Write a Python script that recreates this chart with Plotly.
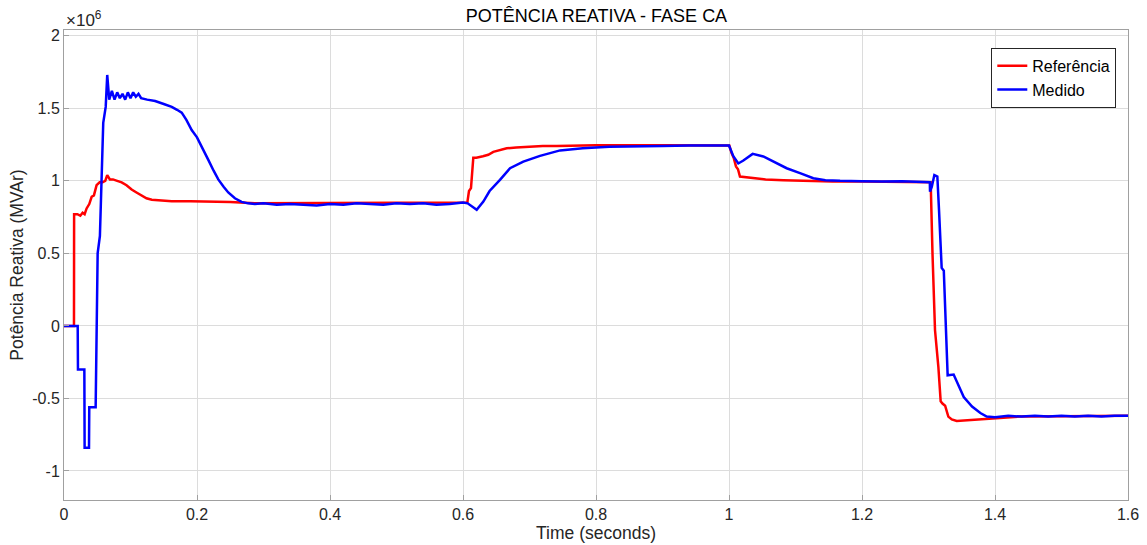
import plotly.graph_objects as go

# Time (s) and values (x10^6 VAr)
t_ref = [0.0, 0.015, 0.0152, 0.020, 0.0245, 0.028, 0.031, 0.034, 0.038, 0.0416, 0.045, 0.049, 0.0536, 0.058,
         0.062, 0.065, 0.069, 0.0737, 0.080, 0.0867, 0.094, 0.1017, 0.109, 0.1168, 0.124, 0.132, 0.145,
         0.162, 0.19, 0.212, 0.25, 0.287, 0.35, 0.45, 0.55, 0.6, 0.6065, 0.609, 0.612, 0.6155, 0.62,
         0.630, 0.638, 0.6456, 0.655, 0.6657, 0.68, 0.6957, 0.72, 0.741, 0.8, 0.9, 1.0, 1.0005, 1.004,
         1.007, 1.0105, 1.0135, 1.0165, 1.025, 1.0366, 1.055, 1.0817, 1.12, 1.156, 1.2, 1.25, 1.3, 1.3033,
         1.306, 1.3098, 1.3148, 1.3183, 1.321, 1.325, 1.3298, 1.335, 1.3424, 1.36, 1.3825, 1.41, 1.4376,
         1.5, 1.6]
v_ref = [0.0, 0.0, 0.77, 0.77, 0.76, 0.78, 0.77, 0.81, 0.84, 0.89, 0.90, 0.97, 0.99, 0.99,
         1.00, 1.04, 1.01, 1.01, 1.00, 0.99, 0.97, 0.94, 0.92, 0.90, 0.88, 0.87, 0.865,
         0.86, 0.86, 0.86, 0.855, 0.845, 0.845, 0.845, 0.845, 0.845, 0.85, 0.93, 0.95, 1.16, 1.16,
         1.17, 1.18, 1.20, 1.21, 1.225, 1.23, 1.235, 1.24, 1.24, 1.245, 1.245, 1.245, 1.243, 1.19,
         1.16, 1.10, 1.08, 1.03, 1.025, 1.018, 1.01, 1.005, 1.0, 0.995, 0.995, 0.995, 0.995, 0.99,
         0.50, -0.03, -0.28, -0.52, -0.535, -0.55, -0.625, -0.645, -0.655, -0.65, -0.64, -0.632, -0.625,
         -0.622, -0.62]

t_med = [0.0, 0.0206, 0.021, 0.0306, 0.031, 0.0376, 0.038, 0.0476, 0.0506, 0.054, 0.059, 0.0627, 0.065,
         0.068, 0.072, 0.076, 0.080, 0.084, 0.088, 0.092, 0.096, 0.100, 0.104, 0.108, 0.112, 0.116,
         0.125, 0.137, 0.150, 0.162, 0.170, 0.177, 0.184, 0.192, 0.200, 0.207, 0.217, 0.225, 0.232,
         0.240, 0.247, 0.257, 0.267, 0.277, 0.287, 0.30, 0.32, 0.34, 0.36, 0.38, 0.40, 0.42, 0.44, 0.46,
         0.48, 0.50, 0.52, 0.54, 0.56, 0.58, 0.60, 0.607, 0.6206, 0.6306, 0.640, 0.6556, 0.6707, 0.6907,
         0.7158, 0.746, 0.78, 0.82, 0.86, 0.90, 0.94, 0.98, 1.0, 1.0065, 1.014, 1.0216, 1.0356, 1.0516,
         1.0667, 1.0867, 1.1068, 1.1268, 1.145, 1.167, 1.20, 1.23, 1.26, 1.29, 1.302, 1.3023, 1.305,
         1.3088, 1.3133, 1.3158, 1.3198, 1.323, 1.3263, 1.3288, 1.3378, 1.3454, 1.353, 1.3655, 1.378,
         1.3875, 1.40, 1.42, 1.44, 1.46, 1.48, 1.50, 1.52, 1.54, 1.56, 1.58, 1.6]
v_med = [0.0, 0.0, -0.30, -0.30, -0.84, -0.84, -0.56, -0.56, 0.50, 0.62, 1.40, 1.51, 1.73,
         1.56, 1.62, 1.56, 1.61, 1.57, 1.60, 1.56, 1.61, 1.57, 1.61, 1.58, 1.60, 1.57,
         1.56, 1.55, 1.53, 1.51, 1.49, 1.47, 1.42, 1.35, 1.30, 1.24, 1.145, 1.07, 1.01,
         0.96, 0.92, 0.88, 0.855, 0.845, 0.84, 0.845, 0.835, 0.84, 0.835, 0.83, 0.84, 0.835, 0.845, 0.84,
         0.835, 0.845, 0.84, 0.845, 0.835, 0.84, 0.85, 0.845, 0.80, 0.857, 0.93, 1.007, 1.087, 1.133,
         1.172, 1.21, 1.225, 1.235, 1.24, 1.24, 1.243, 1.245, 1.243, 1.17, 1.12, 1.14, 1.186, 1.168,
         1.133, 1.087, 1.053, 1.018, 1.005, 1.0, 0.998, 0.995, 0.998, 0.995, 0.99, 0.926, 0.96,
         1.04, 1.03, 0.80, 0.40, 0.38, 0.0, -0.34, -0.335, -0.41, -0.49, -0.556, -0.60,
         -0.625, -0.63, -0.62, -0.625, -0.62, -0.625, -0.62, -0.625, -0.62, -0.625, -0.62, -0.62]

x_ticks = [0, 0.2, 0.4, 0.6, 0.8, 1.0, 1.2, 1.4, 1.6]
x_labels = ["0", "0.2", "0.4", "0.6", "0.8", "1", "1.2", "1.4", "1.6"]
y_ticks = [-1, -0.5, 0, 0.5, 1, 1.5, 2]
y_labels = ["-1", "-0.5", "0", "0.5", "1", "1.5", "2"]

SCALE = 1e6
font_family = "Liberation Sans, Arial, sans-serif"

fig = go.Figure()
fig.add_trace(go.Scatter(x=t_ref, y=[v * SCALE for v in v_ref], mode="lines", name="Referência",
                         line=dict(color="#ff0000", width=2.5)))
fig.add_trace(go.Scatter(x=t_med, y=[v * SCALE for v in v_med], mode="lines", name="Medido",
                         line=dict(color="#0000ff", width=2.5)))

fig.update_layout(
    width=1147, height=545,
    margin=dict(l=64, r=19, t=30, b=45),
    paper_bgcolor="white", plot_bgcolor="white",
    font=dict(family=font_family, size=16, color="#262626"),
    title=dict(text="POTÊNCIA REATIVA - FASE CA", x=0.52, xanchor="center", y=0.972, yanchor="middle",
               font=dict(size=18, color="#000000")),
    showlegend=True,
    legend=dict(x=0.989, y=0.962, xanchor="right", yanchor="top", bgcolor="white",
                bordercolor="#262626", borderwidth=1, font=dict(size=16, color="#000000"),
                tracegroupgap=0, itemwidth=30),
    annotations=[dict(text="×10<sup>6</sup>", xref="paper", yref="paper", x=0.0, y=1.0,
                      xanchor="left", yanchor="bottom", yshift=-2, showarrow=False,
                      font=dict(size=17, color="#262626"))],
)
fig.update_xaxes(range=[0, 1.6], tickvals=x_ticks, ticktext=x_labels, automargin=False,
                 showgrid=True, gridcolor="#dcdcdc", gridwidth=1, zeroline=False,
                 showline=True, linecolor="#a0a0a0", linewidth=1, mirror=True,
                 ticks="inside", ticklen=5, tickcolor="#a0a0a0", tickfont=dict(size=16),
                 title=dict(text="Time (seconds)", font=dict(size=17.5, color="#262626"), standoff=2))
fig.update_yaxes(range=[-1.2 * SCALE, 2.04 * SCALE], tickvals=[v * SCALE for v in y_ticks], ticktext=y_labels,
                 automargin=False,
                 showgrid=True, gridcolor="#dcdcdc", gridwidth=1, zeroline=False,
                 showline=True, linecolor="#a0a0a0", linewidth=1, mirror=True,
                 ticks="inside", ticklen=5, tickcolor="#a0a0a0", tickfont=dict(size=16),
                 title=dict(text="Potência Reativa (MVAr)", font=dict(size=17.5, color="#262626"), standoff=4))

fig.write_html("out.html", config={"displayModeBar": False},
               post_script="document.body.style.margin='0';document.body.style.overflow='hidden';")
